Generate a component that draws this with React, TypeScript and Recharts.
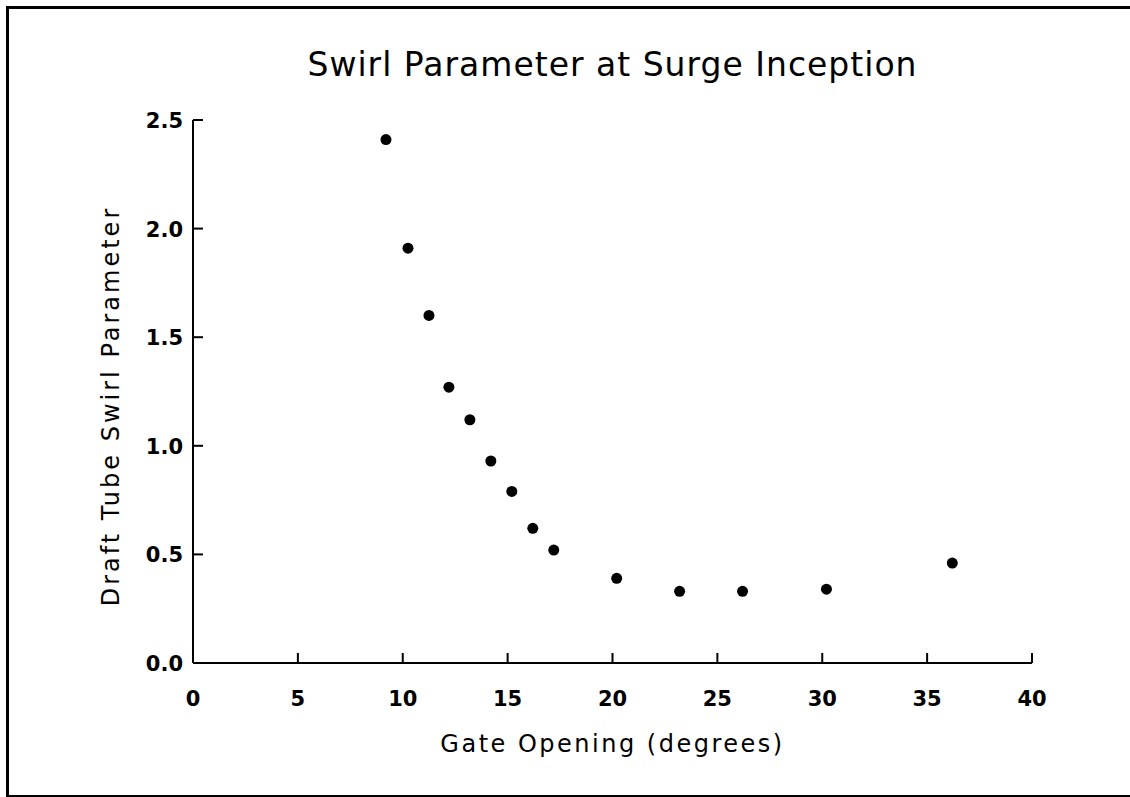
import React from 'react';
import { ScatterChart, Scatter, XAxis, YAxis } from 'recharts';

const gateOpening = [9.2, 10.25, 11.25, 12.2, 13.2, 14.2, 15.2, 16.2, 17.2, 20.2, 23.2, 26.2, 30.2, 36.2];
const swirlParam = [2.41, 1.91, 1.6, 1.27, 1.12, 0.93, 0.79, 0.62, 0.52, 0.39, 0.33, 0.33, 0.34, 0.46];
const xTicks = [0, 5, 10, 15, 20, 25, 30, 35, 40];
const yTicks = [0, 0.5, 1.0, 1.5, 2.0, 2.5];

const points = gateOpening.map((g, i) => ({ x: g, y: swirlParam[i] }));

const FONT = '"DejaVu Sans", sans-serif';

// ticks drawn by hand so they point into the plot like the original
const XTick = (props: any) => {
  const { x, y, payload } = props;
  return (
    <g>
      <line x1={x} y1={y} x2={x} y2={y - 10} stroke="#000" strokeWidth={2} />
      <text x={x} y={y + 43} textAnchor="middle" fontFamily={FONT} fontWeight="bold" fontSize={21} fill="#000">
        {payload.value}
      </text>
    </g>
  );
};

const YTick = (props: any) => {
  const { x, y, payload } = props;
  return (
    <g>
      <line x1={x} y1={y} x2={x + 10} y2={y} stroke="#000" strokeWidth={2} />
      <text x={x - 10} y={y + 8} textAnchor="end" fontFamily={FONT} fontWeight="bold" fontSize={21} fill="#000">
        {Number(payload.value).toFixed(1)}
      </text>
    </g>
  );
};

const App = () => {
  return (
    <div style={{ position: 'absolute', left: 0, top: 0, width: 1130, height: 797, background: '#fff', overflow: 'hidden' }}>
      <div
        style={{
          position: 'absolute',
          left: 6,
          top: 6,
          width: 1140,
          height: 786,
          borderLeft: '3px solid #000',
          borderTop: '3px solid #000',
          borderBottom: '2px solid #000',
        }}
      />
      <div
        style={{
          position: 'absolute',
          left: 193,
          width: 839,
          top: 46,
          lineHeight: '38px',
          textAlign: 'center',
          fontFamily: FONT,
          fontSize: 33,
          letterSpacing: 1,
          color: '#000',
        }}
      >
        Swirl Parameter at Surge Inception
      </div>
      <div
        style={{
          position: 'absolute',
          left: 193,
          width: 839,
          top: 730,
          lineHeight: '28px',
          textAlign: 'center',
          fontFamily: FONT,
          fontSize: 24,
          letterSpacing: 2.5,
          color: '#000',
        }}
      >
        Gate Opening (degrees)
      </div>
      <div
        style={{
          position: 'absolute',
          left: 111 - 300,
          width: 600,
          top: 406 - 15,
          height: 30,
          lineHeight: '30px',
          textAlign: 'center',
          transform: 'rotate(-90deg)',
          fontFamily: FONT,
          fontSize: 24,
          letterSpacing: 3,
          color: '#000',
        }}
      >
        Draft Tube Swirl Parameter
      </div>
      <div style={{ position: 'absolute', left: 0, top: 0 }}>
        <ScatterChart width={1130} height={797} margin={{ top: 120, right: 98, bottom: 54, left: 133 }}>
          <XAxis
            type="number"
            dataKey="x"
            domain={[0, 40]}
            ticks={xTicks}
            interval={0}
            height={80}
            tickSize={0}
            tickMargin={0}
            tickLine={false}
            tick={<XTick />}
            axisLine={{ stroke: '#000', strokeWidth: 2 }}
          />
          <YAxis
            type="number"
            dataKey="y"
            domain={[0, 2.5]}
            ticks={yTicks}
            interval={0}
            width={60}
            tickSize={0}
            tickMargin={0}
            tickLine={false}
            tick={<YTick />}
            axisLine={{ stroke: '#000', strokeWidth: 2 }}
          />
          <Scatter
            data={points}
            fill="#000"
            isAnimationActive={false}
            shape={(p: any) => <circle cx={p.cx} cy={p.cy} r={5.5} fill="#000" />}
          />
        </ScatterChart>
      </div>
    </div>
  );
};

export default App;
